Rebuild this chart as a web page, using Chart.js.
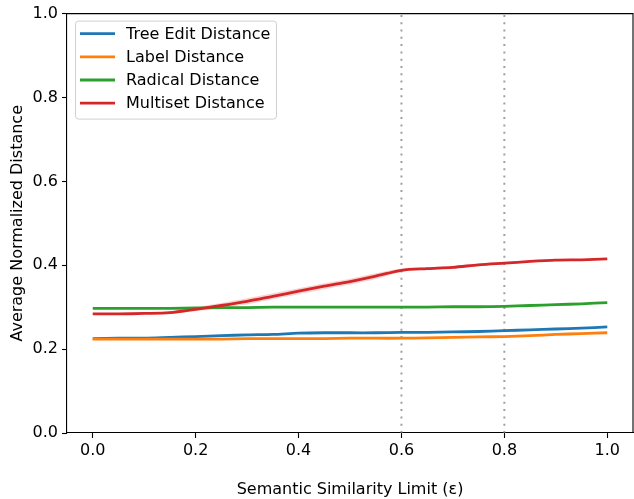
<!DOCTYPE html>
<html>
<head>
<meta charset="utf-8">
<script src="https://cdn.jsdelivr.net/npm/chart.js@4/dist/chart.umd.min.js"></script>
<style>
html,body{margin:0;padding:0;background:#fff;}
#wrap{width:634px;height:499px;position:relative;}
</style>
</head>
<body>
<div id="wrap"><canvas id="c"></canvas></div>
<script>
const xValues = [0, 0.05, 0.1, 0.15, 0.2, 0.25, 0.3, 0.35, 0.4, 0.45, 0.5, 0.55, 0.6, 0.65, 0.7, 0.75, 0.8, 0.85, 0.9, 0.95, 1.0];
const treeEdit = [0.225, 0.226, 0.226, 0.228, 0.230, 0.232, 0.234, 0.235, 0.238, 0.239, 0.239, 0.239, 0.240, 0.240, 0.241, 0.242, 0.244, 0.246, 0.248, 0.250, 0.253];
const labelDist = [0.224, 0.224, 0.224, 0.224, 0.224, 0.224, 0.225, 0.225, 0.225, 0.225, 0.226, 0.226, 0.226, 0.227, 0.228, 0.229, 0.230, 0.232, 0.235, 0.237, 0.239];
const radical = [0.297, 0.297, 0.297, 0.297, 0.298, 0.299, 0.299, 0.300, 0.300, 0.300, 0.300, 0.300, 0.300, 0.300, 0.301, 0.301, 0.302, 0.304, 0.306, 0.308, 0.311];
const multiset = [0.284, 0.284, 0.285, 0.287, 0.295, 0.304, 0.314, 0.326, 0.338, 0.350, 0.361, 0.374, 0.388, 0.392, 0.395, 0.401, 0.405, 0.409, 0.412, 0.413, 0.415];
const multisetUpper = [0.285, 0.285, 0.286, 0.290, 0.300, 0.310, 0.321, 0.333, 0.345, 0.357, 0.368, 0.381, 0.392, 0.395, 0.398, 0.404, 0.408, 0.411, 0.413, 0.414, 0.416];
const multisetLower = [0.283, 0.283, 0.284, 0.284, 0.290, 0.298, 0.307, 0.319, 0.331, 0.343, 0.354, 0.367, 0.384, 0.389, 0.392, 0.398, 0.402, 0.407, 0.411, 0.412, 0.414];
const seriesNames = ['Tree Edit Distance', 'Label Distance', 'Radical Distance', 'Multiset Distance'];
const seriesColors = ['#1f77b4', '#ff7f0e', '#2ca02c', '#d62728'];
const xTicks = [0, 0.2, 0.4, 0.6, 0.8, 1.0];
const yTicks = [0, 0.2, 0.4, 0.6, 0.8, 1.0];
const markerX = [0.6, 0.8];
const xLabel = 'Semantic Similarity Limit (ε)';
const yLabel = 'Average Normalized Distance';

const FONT = 'DejaVu Sans';
const FS = 16;
const pts = arr => arr.map((v, i) => ({x: xValues[i], y: v}));

const datasets = [];
[treeEdit, labelDist, radical, multiset].forEach((arr, i) => {
  datasets.push({
    label: seriesNames[i], data: pts(arr), borderColor: seriesColors[i],
    borderWidth: 2.8, pointRadius: 0, tension: 0.3, fill: false, order: 4 - i
  });
});
datasets.push({label: 'band_lo', data: pts(multisetLower), borderWidth: 0, pointRadius: 0, fill: false, order: 6, tension: 0.3});
datasets.push({label: 'band_hi', data: pts(multisetUpper), borderWidth: 0, pointRadius: 0, fill: '-1', backgroundColor: 'rgba(214,39,40,0.2)', order: 6, tension: 0.3});
markerX.forEach(mx => {
  datasets.push({label: 'vline', data: [{x: mx, y: 0}, {x: mx, y: 1}], borderColor: 'rgba(128,128,128,0.75)',
    borderWidth: 2, borderDash: [2, 5.3], borderCapStyle: 'butt', pointRadius: 0, fill: false, order: 7});
});

const framePlugin = {
  id: 'frame',
  afterDatasetsDraw(chart) {
    const {ctx, chartArea: a} = chart;
    ctx.save();
    ctx.strokeStyle = '#000'; ctx.lineWidth = 1.1;
    ctx.beginPath();
    ctx.moveTo(a.left, a.top); ctx.lineTo(a.right, a.top); ctx.lineTo(a.right, a.bottom);
    ctx.stroke();
    ctx.restore();
  },
  afterDraw(chart) {
    const {ctx, chartArea: a} = chart;
    ctx.save();
    const bx = a.left + 8, by = a.top + 7, bw = 201, bh = 98;
    ctx.fillStyle = 'rgba(255,255,255,0.85)';
    ctx.strokeStyle = '#d0d0d0'; ctx.lineWidth = 1;
    ctx.beginPath();
    if (ctx.roundRect) ctx.roundRect(bx + 0.5, by + 0.5, bw, bh, 3); else ctx.rect(bx + 0.5, by + 0.5, bw, bh);
    ctx.fill(); ctx.stroke();
    ctx.font = FS + 'px "' + FONT + '"';
    ctx.textBaseline = 'middle';
    seriesNames.forEach((n, i) => {
      const y = by + 13 + i * 23.2;
      ctx.strokeStyle = seriesColors[i]; ctx.lineWidth = 2.8;
      ctx.beginPath(); ctx.moveTo(bx + 5, y); ctx.lineTo(bx + 40, y); ctx.stroke();
      ctx.fillStyle = '#000';
      ctx.fillText(n, bx + 51, y + 1);
    });
    ctx.restore();
  }
};

new Chart(document.getElementById('c'), {
  type: 'line',
  data: {datasets},
  options: {
    responsive: true, maintainAspectRatio: false, animation: false,
    layout: {padding: {top: 12, right: 1, left: 0, bottom: 0}},
    plugins: {legend: {display: false}, tooltip: {enabled: false}},
    scales: {
      x: {
        type: 'linear', min: -0.05, max: 1.05,
        afterBuildTicks: s => { s.ticks = xTicks.map(v => ({value: v})); },
        afterFit: s => { s.height = 66; },
        ticks: {color: '#000', font: {family: FONT, size: FS}, padding: 3, maxRotation: 0,
          callback: v => Number(v).toFixed(1)},
        grid: {display: true, drawOnChartArea: false, drawTicks: true, tickLength: 5, tickColor: '#000', tickWidth: 1.1},
        border: {display: true, color: '#000', width: 1.1},
        title: {display: true, text: xLabel, color: '#000', font: {family: FONT, size: FS}, padding: {top: 0, bottom: 0}}
      },
      y: {
        type: 'linear', min: 0, max: 1,
        afterBuildTicks: s => { s.ticks = yTicks.map(v => ({value: v})); },
        afterFit: s => { s.width = 67; },
        ticks: {color: '#000', font: {family: FONT, size: FS}, padding: 4,
          callback: v => Number(v).toFixed(1)},
        grid: {display: true, drawOnChartArea: false, drawTicks: true, tickLength: 5, tickColor: '#000', tickWidth: 1.1},
        border: {display: true, color: '#000', width: 1.1},
        title: {display: true, text: yLabel, color: '#000', font: {family: FONT, size: FS}, padding: {top: 8, bottom: 0}}
      }
    }
  },
  plugins: [framePlugin]
});
</script>
</body>
</html>
